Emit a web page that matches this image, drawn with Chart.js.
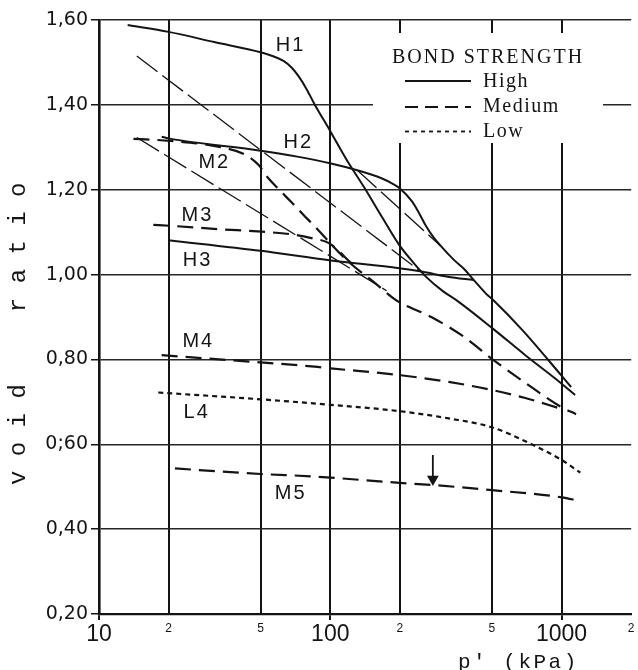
<!DOCTYPE html>
<html>
<head>
<meta charset="utf-8">
<script src="https://cdn.jsdelivr.net/npm/chart.js@4.4.1/dist/chart.umd.min.js"></script>
<style>
  html, body { margin: 0; padding: 0; background: #fff; }
  canvas { display: block; }
</style>
</head>
<body>
<canvas id="c" width="638" height="670"></canvas>
<script>
// Void ratio e against mean effective stress p' (log scale) for bonded samples

const xTickValues = [10, 20, 50, 100, 200, 500, 1000, 2000];
const xTickLabels = ['10', '2', '5', '100', '2', '5', '1000', '2'];
const yTickValues = [0.2, 0.4, 0.6, 0.8, 1.0, 1.2, 1.4, 1.6];
const yTickLabels = ['0,20', '0,40', '0;60', '0,80', '1,00', '1,20', '1,40', '1,60'];

// High bond strength
const h1P = [13.3, 20, 31.5, 50, 57, 63, 68, 73, 79, 85, 100, 117.8, 140.7, 166.3, 198.5, 229.6, 260.3, 306.7, 354.3, 506, 697, 995, 1144];
const h1E = [1.588, 1.572, 1.548, 1.524, 1.514, 1.503, 1.488, 1.467, 1.437, 1.404, 1.338, 1.270, 1.204, 1.138, 1.070, 1.027, 0.994, 0.961, 0.938, 0.872, 0.810, 0.744, 0.716];

const h2P = [18.66, 20, 50, 72, 100.7, 130.8, 166.5, 184.6, 200, 225.2, 240.9, 257.8, 278.6, 300.9, 343.2, 379, 417.3, 473.4, 506, 677, 995, 1100];
const h2E = [1.325, 1.321, 1.292, 1.278, 1.262, 1.246, 1.227, 1.215, 1.203, 1.173, 1.147, 1.117, 1.089, 1.067, 1.034, 1.013, 0.987, 0.954, 0.940, 0.869, 0.763, 0.735];

const h3P = [20, 50, 100.7, 198.5, 248, 321.8, 417.3];
const h3E = [1.081, 1.056, 1.033, 1.015, 1.007, 0.995, 0.987];

// Medium bond strength
const m2P = [14.09, 20.3, 33.1, 43.0, 49.0, 54.0, 59.4, 67.5, 76.8, 84.5, 117.8, 156.2, 184.6, 198.5, 273.2, 379, 506, 717.5, 995, 1155];
const m2E = [1.320, 1.315, 1.301, 1.282, 1.258, 1.227, 1.203, 1.172, 1.140, 1.117, 1.034, 0.980, 0.947, 0.935, 0.900, 0.853, 0.799, 0.740, 0.688, 0.671];

const m3P = [17.17, 20.3, 33.1, 50.6, 67.5, 84.5, 98.7, 124.1];
const m3E = [1.117, 1.115, 1.107, 1.101, 1.095, 1.085, 1.074, 1.025];

const m4P = [18.66, 50, 85.6, 100.4, 200, 324.9, 500, 697, 978];
const m4E = [0.810, 0.793, 0.783, 0.779, 0.763, 0.747, 0.728, 0.709, 0.685];

const m5P = [21.3, 50, 85.6, 200, 277.6, 500, 1000, 1186];
const m5E = [0.543, 0.530, 0.524, 0.509, 0.504, 0.492, 0.475, 0.467];

// Low bond strength
const l4P = [18.04, 50, 100.4, 200, 324.9, 500, 729.5, 1000, 1205];
const l4E = [0.722, 0.706, 0.693, 0.678, 0.661, 0.640, 0.602, 0.563, 0.533];

// Thin reference lines
const refAP = [14.57, 240.9];
const refAE = [1.515, 1.011];
const refBP = [14.57, 175.1];
const refBE = [1.323, 0.962];
const refCP = [130.8, 300.9];
const refCE = [1.246, 1.067];

// Arrow pointing at M5
const arrowP = [277.6, 277.6];
const arrowE = [0.575, 0.518];

// Curve tags (text, p', e)
const curveTags = [
  ['H1', 66.7, 1.539],
  ['H2', 72.0, 1.312],
  ['M2', 31.2, 1.263],
  ['M3', 26.4, 1.140],
  ['H3', 26.4, 1.034],
  ['M4', 26.6, 0.843],
  ['L4', 26.2, 0.674],
  ['M5', 66.7, 0.485]
];

const ink = '#141414';
const lineKinds = {
  high:   { borderWidth: 2,   borderDash: [] },
  medium: { borderWidth: 2.2, borderDash: [16, 8] },
  low:    { borderWidth: 2.2, borderDash: [5, 4] },
  ref:    { borderWidth: 1.3, borderDash: [26, 6] }
};

function series(label, ps, es, kind) {
  return Object.assign({
    label,
    data: ps.map((p, i) => ({ x: p, y: es[i] })),
    showLine: true,
    pointRadius: 0,
    borderColor: ink,
    backgroundColor: ink,
    fill: false,
    cubicInterpolationMode: 'monotone'
  }, lineKinds[kind]);
}

const datasets = [
  series('refA', refAP, refAE, 'ref'),
  series('refB', refBP, refBE, 'ref'),
  series('refC', refCP, refCE, 'ref'),
  series('H1', h1P, h1E, 'high'),
  series('H2', h2P, h2E, 'high'),
  series('H3', h3P, h3E, 'high'),
  series('M2', m2P, m2E, 'medium'),
  series('M3', m3P, m3E, 'medium'),
  series('M4', m4P, m4E, 'medium'),
  series('M5', m5P, m5E, 'medium'),
  series('L4', l4P, l4E, 'low'),
  {
    label: 'arrow',
    data: arrowP.map((p, i) => ({ x: p, y: arrowE[i] })),
    showLine: true,
    borderColor: ink,
    backgroundColor: ink,
    borderWidth: 1.8,
    pointRadius: [0, 5],
    pointStyle: 'triangle',
    pointRotation: 180,
    tension: 0
  }
];

// Legend block inside the plot, drawn over the grid
const bondLegend = {
  id: 'bondLegend',
  beforeDatasetsDraw(chart) {
    const c = chart.ctx;
    c.save();
    c.fillStyle = '#fff';
    c.fillRect(373, 33, 230, 110);
    c.fillStyle = ink;
    c.strokeStyle = ink;
    c.textBaseline = 'alphabetic';
    c.textAlign = 'left';
    c.font = '20px "Liberation Serif", serif';
    c.letterSpacing = '2px';
    c.fillText('BOND STRENGTH', 392, 63);
    c.letterSpacing = '1.5px';
    const rows = [['High', 87, 81, 'high'], ['Medium', 112, 107, 'medium'], ['Low', 137, 131.5, 'low']];
    const sampleDash = { high: [], medium: [13, 7], low: [4, 4] };
    rows.forEach(([txt, base, ly, kind]) => {
      c.fillText(txt, 483, base);
      c.beginPath();
      c.lineWidth = 1.8;
      c.setLineDash(sampleDash[kind]);
      c.moveTo(405, ly);
      c.lineTo(471, ly);
      c.stroke();
    });
    c.restore();
  },
  afterDraw(chart) {
    const c = chart.ctx;
    const xs = chart.scales.x, ys = chart.scales.y;
    c.save();
    c.fillStyle = ink;
    // curve tags
    c.font = '20px "Liberation Sans", Arial, sans-serif';
    c.letterSpacing = '2px';
    c.textAlign = 'center';
    c.textBaseline = 'middle';
    curveTags.forEach(([t, p, e]) => {
      c.fillText(t, xs.getPixelForValue(p) + 1, ys.getPixelForValue(e));
    });
    // axis titles
    c.letterSpacing = '0px';
    c.textAlign = 'left';
    c.textBaseline = 'alphabetic';
    c.font = '24px "Liberation Mono", monospace';
    c.translate(25, 485);
    c.rotate(-Math.PI / 2);
    c.fillText('v o i d     r a t i o', 0, 0);
    c.setTransform(1, 0, 0, 1, 0, 0);
    c.font = '21px "Liberation Mono", monospace';
    c.letterSpacing = '2.5px';
    c.fillText("p' (kPa)", 458, 668);
    c.restore();
  }
};

const majorX = [10, 100, 1000];

new Chart(document.getElementById('c').getContext('2d'), {
  type: 'scatter',
  data: { datasets },
  options: {
    responsive: false,
    animation: false,
    devicePixelRatio: 1,
    layout: { padding: { top: 20, right: 0, bottom: 0, left: 0 } },
    plugins: { legend: { display: false }, tooltip: { enabled: false } },
    scales: {
      x: {
        type: 'logarithmic',
        min: 10,
        max: 2000,
        afterBuildTicks: (s) => { s.ticks = xTickValues.map(v => ({ value: v })); },
        afterFit: (s) => { s.height = 56; s.paddingLeft = 0; s.paddingRight = 0; },
        ticks: {
          autoSkip: false,
          maxRotation: 0,
          minRotation: 0,
          padding: 1,
          color: ink,
          callback: (v, i) => xTickLabels[i],
          font: (c) => {
            const v = c.tick ? c.tick.value : 10;
            return majorX.includes(v)
              ? { family: '"Liberation Sans", Arial, sans-serif', size: 23 }
              : { family: '"Liberation Sans", Arial, sans-serif', size: 12 };
          }
        },
        grid: {
          color: (c) => (c.tick && c.tick.value === 2000) ? 'rgba(0,0,0,0)' : ink,
          lineWidth: 2,
          tickLength: 6,
          tickColor: (c) => (c.tick && majorX.includes(c.tick.value)) ? ink : 'rgba(0,0,0,0)'
        },
        border: { color: ink, width: 2.2 }
      },
      y: {
        type: 'linear',
        min: 0.2,
        max: 1.6,
        afterBuildTicks: (s) => { s.ticks = yTickValues.map(v => ({ value: v })); },
        afterFit: (s) => { s.width = 99; s.paddingTop = 0; s.paddingBottom = 0; },
        ticks: {
          padding: 3,
          color: ink,
          callback: (v, i) => yTickLabels[i],
          font: { family: '"DejaVu Sans", sans-serif', size: 19 }
        },
        grid: {
          color: '#262626',
          lineWidth: 1.5,
          tickLength: 8,
          tickColor: ink
        },
        border: { color: ink, width: 2.6 }
      }
    }
  },
  plugins: [bondLegend]
});
</script>
</body>
</html>
